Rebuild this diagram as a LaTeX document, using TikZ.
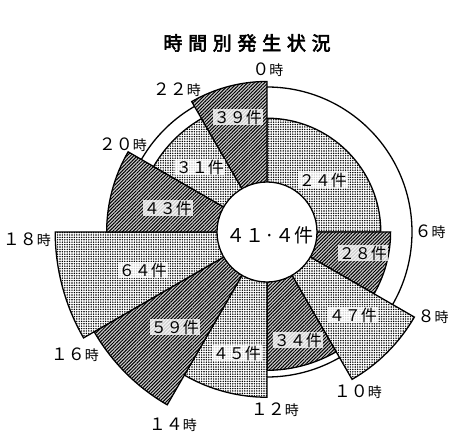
\documentclass[tikz,border=0pt]{standalone}
\usepackage{fontspec}
\setmainfont{Noto Sans CJK JP}[AutoFakeBold=2.5]
\newfontfamily\titlefont{Noto Sans CJK JP}[AutoFakeBold=3, LetterSpace=30]
\usetikzlibrary{patterns.meta}

% sector and label styles
\tikzset{
  lightsec/.style={draw=black, line width=1.3pt, preaction={fill=white},
    pattern={Dots[distance=2.4pt,radius=0.8pt]}},
  darksec/.style={draw=black, line width=1.3pt, preaction={fill=gray!40},
    pattern={Lines[angle=45,distance=2.4pt,line width=1pt]}},
  valbox/.style={fill=white, fill opacity=0.8, text opacity=1, inner sep=1pt,
    font=\fontsize{16}{16}\selectfont},
  hourlbl/.style={inner sep=1pt, font=\fontsize{17}{17}\selectfont},
}

\begin{document}
\begin{tikzpicture}[x=1pt,y=1pt]  % one unit = one pixel of the reference
    \useasboundingbox (-267,-207) rectangle (183,232);

    % Title
    \node[font=\titlefont\fontsize{19}{19}\selectfont\bfseries] (title) at (-20,189) {時間別発生状況};

    % Draw the reference circle
    \draw[line width=1.3pt] (0,0) circle (145);

    % Draw the sectors: start hour / hours / cases / style
    \foreach \h/\w/\v/\s in {0/6/24/lightsec, 6/2/28/darksec, 8/2/47/lightsec,
        10/2/34/darksec, 12/2/45/lightsec, 14/2/59/darksec, 16/2/64/lightsec,
        18/2/43/darksec, 20/2/31/lightsec, 22/2/39/darksec} {
        \pgfmathsetmacro\r{55+2.45*\v}
        \draw[\s] (0,0) -- (90-15*\h:\r)
            arc[start angle=90-15*\h, end angle=90-15*\h-15*\w, radius=\r] -- cycle;
    }

    % Centre with the average
    \draw[line width=1.3pt, fill=white] (0,0) circle (50);
    \node[font=\fontsize{19}{19}\selectfont] (avg) at (3,-3) {４１·４件};

    % Case counts
    \foreach \n/\x/\y/\t in {0/56/52/２４件, 22/-29/115/３９件, 20/-67/65/３１件,
        18/-99/24/４３件, 16/-124/-38/６４件, 14/-92/-95/５９件, 12/-30/-121/４５件,
        10/31/-108/３４件, 8/86/-83/４７件, 6/96/-21/２８件} {
        \node[valbox] (v\n) at (\x,\y) {\t};
    }

    % Hour labels
    \foreach \n/\x/\y/\t in {0/1/162/０, 22/-90/142/２２, 20/-144/87/２０,
        18/-240/-8/１８, 16/-192/-123/１６, 14/-94/-193/１４, 12/8/-178/１２,
        10/91/-160/１０, 8/166/-85/８, 6/163/0/６} {
        \node[hourlbl] (t\n) at (\x,\y) {\t{\fontsize{14}{14}\selectfont 時}};
    }

\end{tikzpicture}
\end{document}
